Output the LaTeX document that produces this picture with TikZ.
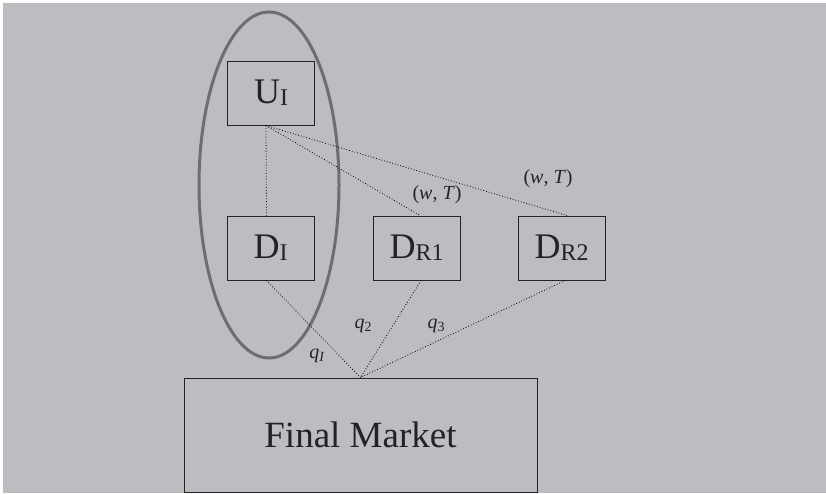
\documentclass[tikz,border=0pt]{standalone}
\usepackage{fontspec}
\setmainfont{Liberation Serif}
\definecolor{bg}{RGB}{188,189,192}
\definecolor{ring}{RGB}{110,110,113}
\definecolor{edge}{RGB}{35,35,38}
\newcommand{\mysub}[1]{\raisebox{-2pt}{\fontsize{24}{24}\selectfont #1}}
\newcommand{\qsub}[1]{\raisebox{-3pt}{\fontsize{14}{14}\selectfont #1}}
\tikzset{
  boxnode/.style={draw=edge, line width=1pt, minimum width=87pt, minimum height=64pt, inner sep=0pt, font=\fontsize{36}{36}\selectfont, text=edge},
  link/.style={dotted, line width=0.8pt, black},
  lbl/.style={inner sep=0pt, font=\fontsize{20}{20}\selectfont, text=edge}
}
\begin{document}
\begin{tikzpicture}[x=1pt,y=-1pt]
\fill[white] (0,0) rectangle (826,493);
\fill[bg] (3,3) rectangle (826,493);
\useasboundingbox (0,0) rectangle (826,493);
\draw[ring, line width=3pt] (269,185) ellipse [x radius=70, y radius=173];
\node[boxnode] (UI) at (271,93) {U\mysub{I}};
\node[boxnode] (DI) at (270.5,248) {D\mysub{I}};
\node[boxnode] (DR1) at (416.5,248) {D\mysub{R1}};
\node[boxnode] (DR2) at (561.5,248) {D\mysub{R2}};
\node[draw=edge, line width=1pt, minimum width=353pt, minimum height=114pt, inner sep=0pt, font=\fontsize{37}{37}\selectfont, text=edge] (FM) at (360.5,435) {Final Market};
\draw[link] ([xshift=-5pt]UI.south) -- ([xshift=-4pt]DI.north);
\draw[link] ([xshift=-5pt]UI.south) -- ([xshift=3.5pt]DR1.north);
\draw[link] ([xshift=-5pt]UI.south) -- ([xshift=5.5pt]DR2.north);
\draw[link] ([xshift=-4pt]DI.south) -- (FM.north);
\draw[link] ([xshift=4.5pt]DR1.south) -- (FM.north);
\draw[link] ([xshift=3.5pt]DR2.south) -- (FM.north);
\node[lbl] (wt1) at (437,195) {(\textit{w}, \textit{T})};
\node[lbl] (wt2) at (548,179) {(\textit{w}, \textit{T})};
\node[lbl] (q2) at (363,326) {\textit{q}\qsub{2}};
\node[lbl] (q3) at (436,326) {\textit{q}\qsub{3}};
\node[lbl] (qI) at (317,356) {\textit{q}\qsub{\textit{I}}};
\end{tikzpicture}
\end{document}
